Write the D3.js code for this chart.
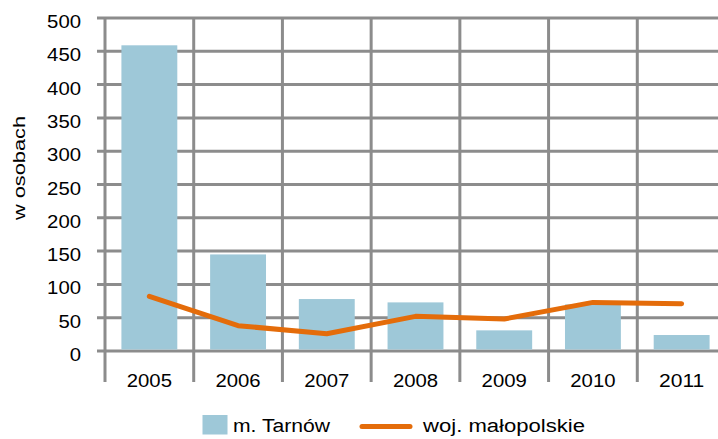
<!DOCTYPE html>
<html>
<head>
<meta charset="utf-8">
<script src="https://cdn.jsdelivr.net/npm/d3@7"></script>
<style>
  body { margin: 0; background: #fff; }
  svg { display: block; font-family: "Liberation Sans", Arial, sans-serif; }
</style>
</head>
<body>
<div class="chart"></div>
<script>
// data
var years = ["2005", "2006", "2007", "2008", "2009", "2010", "2011"];
var tarnow = [459, 145, 78, 73, 31, 70, 24];          // m. Tarnów (bars)
var malopolskie = [82, 38, 26, 52, 48, 73, 71];       // woj. małopolskie (line)
var yTicks = [0, 50, 100, 150, 200, 250, 300, 350, 400, 450, 500];

var svgWidth = 718,
    svgHeight = 439,
    margin = {top: 18, left: 105},
    width = 621,   // plot runs a little past the right edge, as in the original
    height = 333;

var gridColor = "#8c8c8c";
var digitW = 11.3;  // the original text is stretched sideways, so fix its widths

var svg = d3.select(".chart")
    .append("svg")
    .attr("width", svgWidth)
    .attr("height", svgHeight);

var chart = svg.append("g")
    .attr("transform", "translate(" + margin.left + "," + margin.top + ")");

var x = d3.scaleBand().domain(years).range([0, width]).paddingInner(0.37).paddingOuter(0.185);
var xBand = d3.scaleBand().domain(years).range([0, width]);
var y = d3.scaleLinear().domain([0, 500]).range([height, 0]);

// horizontal gridlines with left ticks
chart.append("g")
    .selectAll("line")
    .data(yTicks)
    .enter().append("line")
    .attr("x1", -8)
    .attr("x2", svgWidth)
    .attr("y1", function(d) { return y(d); })
    .attr("y2", function(d) { return y(d); })
    .attr("stroke", gridColor)
    .attr("stroke-width", 3);

// vertical category lines, extending below the axis as ticks
var edges = years.map(function(d) { return xBand(d); });
edges.push(width);
chart.append("g")
    .selectAll("line")
    .data(edges)
    .enter().append("line")
    .attr("x1", function(d) { return d; })
    .attr("x2", function(d) { return d; })
    .attr("y1", 0)
    .attr("y2", height + 31)
    .attr("stroke", gridColor)
    .attr("stroke-width", 3);

// y tick labels
chart.append("g")
    .selectAll("text")
    .data(yTicks)
    .enter().append("text")
    .attr("x", -24)
    .attr("y", function(d) { return y(d) + 10; })
    .attr("text-anchor", "end")
    .attr("font-size", 19)
    .attr("textLength", function(d) { return String(d).length * digitW; })
    .attr("lengthAdjust", "spacingAndGlyphs")
    .attr("fill", "#000")
    .text(function(d) { return d; });

// x tick labels
chart.append("g")
    .selectAll("text")
    .data(years)
    .enter().append("text")
    .attr("x", function(d) { return xBand(d) + xBand.bandwidth() / 2; })
    .attr("y", height + 35.5)
    .attr("text-anchor", "middle")
    .attr("font-size", 19)
    .attr("textLength", function(d) { return d.length * digitW; })
    .attr("lengthAdjust", "spacingAndGlyphs")
    .attr("fill", "#000")
    .text(function(d) { return d; });

// bars
chart.append("g")
    .selectAll("rect")
    .data(tarnow)
    .enter().append("rect")
    .attr("x", function(d, i) { return x(years[i]); })
    .attr("width", x.bandwidth())
    .attr("y", function(d) { return y(d); })
    .attr("height", function(d) { return height - y(d) - 1.5; })
    .attr("fill", "#9ec8d8");

// line
var line = d3.line()
    .x(function(d, i) { return xBand(years[i]) + xBand.bandwidth() / 2; })
    .y(function(d) { return y(d); });

chart.append("path")
    .datum(malopolskie)
    .attr("d", line)
    .attr("fill", "none")
    .attr("stroke", "#e46c0a")
    .attr("stroke-width", 5)
    .attr("stroke-linecap", "round")
    .attr("stroke-linejoin", "round");

// y axis title
svg.append("text")
    .attr("transform", "translate(25,168) rotate(-90)")
    .attr("text-anchor", "middle")
    .attr("font-size", 16)
    .attr("textLength", 104)
    .attr("lengthAdjust", "spacingAndGlyphs")
    .attr("fill", "#000")
    .text("w osobach");

// legend
var legend = svg.append("g");
legend.append("rect")
    .attr("x", 202.5).attr("y", 415)
    .attr("width", 25).attr("height", 19.5)
    .attr("fill", "#9ec8d8");
legend.append("text")
    .attr("x", 233).attr("y", 432)
    .attr("font-size", 18)
    .attr("textLength", 97)
    .attr("lengthAdjust", "spacingAndGlyphs")
    .text("m. Tarnów");
legend.append("line")
    .attr("x1", 362).attr("x2", 410)
    .attr("y1", 426.5).attr("y2", 426.5)
    .attr("stroke", "#e46c0a")
    .attr("stroke-width", 5)
    .attr("stroke-linecap", "round");
legend.append("text")
    .attr("x", 423).attr("y", 432)
    .attr("font-size", 18)
    .attr("textLength", 162)
    .attr("lengthAdjust", "spacingAndGlyphs")
    .text("woj. małopolskie");
</script>
</body>
</html>
